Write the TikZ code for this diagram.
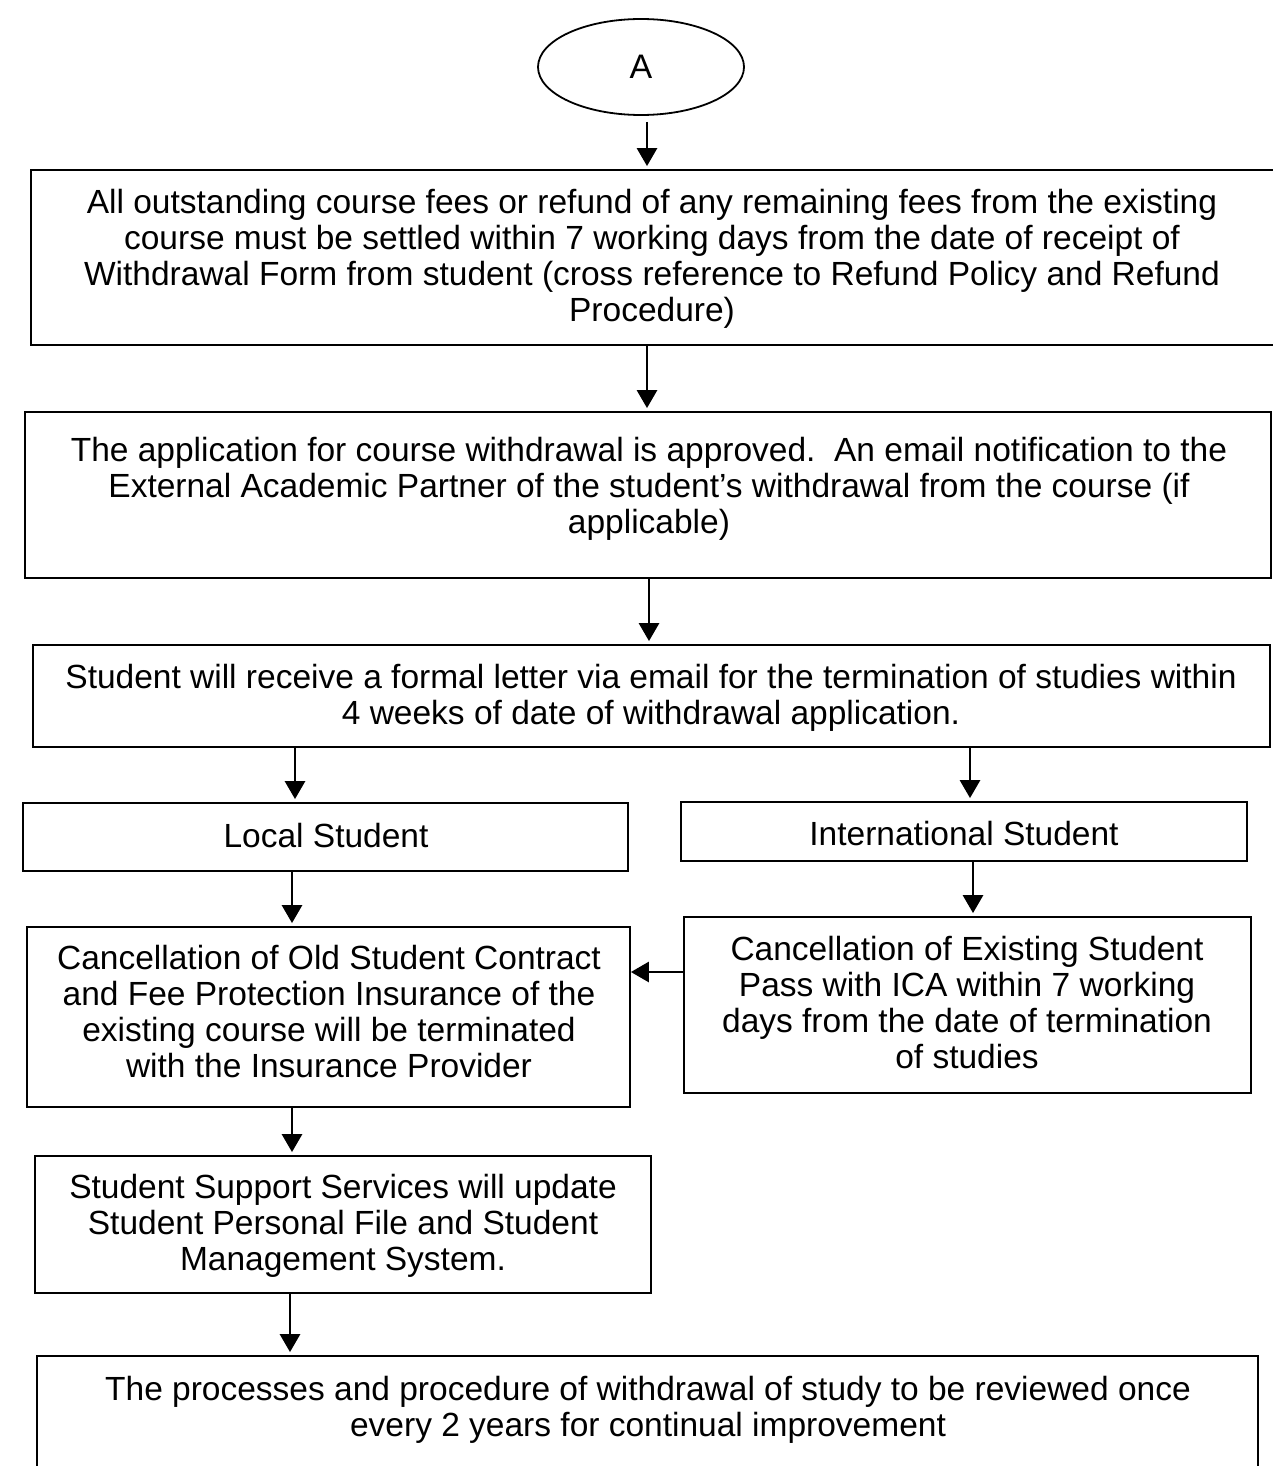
\documentclass[tikz,border=0pt]{standalone}
\usepackage{fontspec}
\setmainfont{Liberation Sans}
\usetikzlibrary{arrows.meta,shapes.geometric}

\begin{document}
\begin{tikzpicture}[x=1pt,y=-1pt,
  box/.style={draw=black,line width=1.8pt,rectangle,inner sep=0pt},
  txt/.style={inner sep=0pt,align=center,font=\fontsize{33.5}{36}\selectfont},
  arr/.style={line width=2.8pt,-{Triangle[width=20pt,length=18pt]},shorten >=3pt}
]
\useasboundingbox (0,0) rectangle (1272,1466);

% start connector
\node[draw=black,line width=1.8pt,ellipse,minimum width=206pt,minimum height=96pt,
      inner sep=0pt,font=\fontsize{34}{36}\selectfont] (A) at (641,67) {A};

% process boxes
\node[box,minimum width=1243pt,minimum height=175pt] (b1) at (652.5,257.5) {};
\node[txt] (t1) at (652,259) {All outstanding course fees or refund of any remaining fees from the existing\\
course must be settled within 7 working days from the date of receipt of\\
Withdrawal Form from student (cross reference to Refund Policy and Refund\\
Procedure)};

\node[box,minimum width=1246pt,minimum height=166pt] (b2) at (648,495) {};
\node[txt] (t2) at (649,489) {The application for course withdrawal is approved.\ \ An email notification to the\\
External Academic Partner of the student’s withdrawal from the course (if\\
applicable)};

\node[box,minimum width=1237pt,minimum height=102pt] (b3) at (651.5,696) {};
\node[txt] (t3) at (651,698) {Student will receive a formal letter via email for the termination of studies within\\
4 weeks of date of withdrawal application.};

\node[box,minimum width=605pt,minimum height=68pt] (loc) at (325.5,837) {};
\node[txt] (tl) at (326,836) {Local Student};

\node[box,minimum width=566pt,minimum height=59pt] (intl) at (964,831.5) {};
\node[txt] (ti) at (964,834) {International Student};

\node[box,minimum width=603pt,minimum height=180pt] (cl) at (328.5,1017) {};
\node[txt] (tcl) at (329,1012) {Cancellation of Old Student Contract\\
and Fee Protection Insurance of the\\
existing course will be terminated\\
with the Insurance Provider};

\node[box,minimum width=567pt,minimum height=176pt] (ci) at (967.5,1005) {};
\node[txt] (tci) at (967,1003) {Cancellation of Existing Student\\
Pass with ICA within 7 working\\
days from the date of termination\\
of studies};

\node[box,minimum width=616pt,minimum height=137pt] (sss) at (343,1224.5) {};
\node[txt] (ts) at (343,1225.5) {Student Support Services will update\\
Student Personal File and Student\\
Management System.};

\node[box,minimum width=1221pt,minimum height=124pt] (fin) at (647.5,1418) {};
\node[txt] (tf) at (648,1409.5) {The processes and procedure of withdrawal of study to be reviewed once\\
every 2 years for continual improvement};

% connectors
\draw[arr,shorten <=6pt] ([xshift=6pt]A.south) -- ([xshift=-5.5pt]b1.north);
\draw[arr] ([xshift=-5.5pt]b1.south) -- ([xshift=-1pt]b2.north);
\draw[arr] ([xshift=1pt]b2.south) -- ([xshift=-2.5pt]b3.north);
\draw[arr] ([xshift=-356.5pt]b3.south) -- ([xshift=-30.5pt]loc.north);
\draw[arr] ([xshift=318.5pt]b3.south) -- ([xshift=6pt]intl.north);
\draw[arr] ([xshift=-33.5pt]loc.south) -- ([xshift=-36.5pt]cl.north);
\draw[arr] ([xshift=9pt]intl.south) -- ([xshift=5.5pt]ci.north);
\draw[arr,shorten >=0pt] ([yshift=33pt]ci.west) -- ([yshift=45pt]cl.east);
\draw[arr] ([xshift=-36.5pt]cl.south) -- ([xshift=-51pt]sss.north);
\draw[arr] ([xshift=-53pt]sss.south) -- ([xshift=-357.5pt]fin.north);
\end{tikzpicture}
\end{document}
